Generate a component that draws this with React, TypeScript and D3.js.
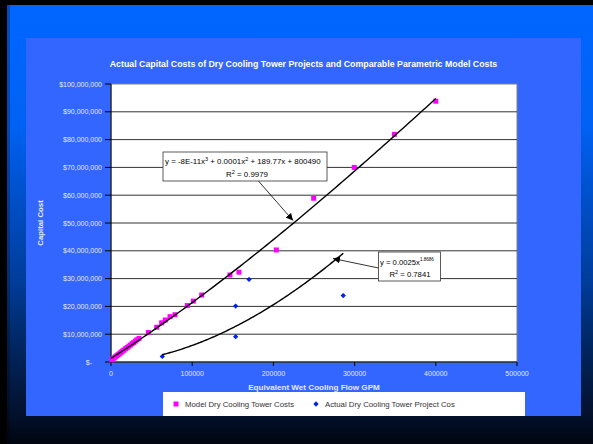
import React from "react";
import * as d3 from "d3";

// Model Dry Cooling Tower Costs (GPM, $)
const modelX = [1000, 2500, 4000, 5500, 7000, 8500, 10000, 11500, 13000, 14500, 16000, 18000, 20000, 22000, 24000, 26000, 28000, 30000, 32000, 34500, 46000, 56300, 62400, 66900, 72700, 78800, 94000, 101400, 111700, 146500, 157600, 203600, 249600, 299600, 349000, 400000];
const modelY = [0.8e6, 1.2e6, 1.5e6, 1.9e6, 2.2e6, 2.6e6, 2.9e6, 3.3e6, 3.6e6, 4.0e6, 4.3e6, 4.8e6, 5.2e6, 5.7e6, 6.1e6, 6.6e6, 7.0e6, 7.5e6, 8.0e6, 8.5e6, 10.6e6, 12.5e6, 14.1e6, 15.1e6, 16.3e6, 17.0e6, 20.3e6, 21.9e6, 24.1e6, 31.3e6, 32.3e6, 40.3e6, 58.9e6, 70.0e6, 81.9e6, 93.8e6];

// Actual Dry Cooling Tower Project Costs
const actualX = [63200, 153500, 153500, 170000, 286000];
const actualY = [2.0e6, 20.1e6, 9.1e6, 29.7e6, 23.9e6];

const yTicks = [0, 10e6, 20e6, 30e6, 40e6, 50e6, 60e6, 70e6, 80e6, 90e6, 100e6];
const xTicks = [0, 100000, 200000, 300000, 400000, 500000];

const titleText = "Actual Capital Costs of Dry Cooling Tower Projects and Comparable Parametric Model Costs";
const xTitle = "Equivalent Wet Cooling Flow GPM";
const yTitle = "Capital Cost";
const legendLabels = ["Model Dry Cooling Tower Costs", "Actual Dry Cooling Tower Project Cos"];
const polyLabel1 = "y = -8E-11x";
const polyLabel1b = " + 0.0001x";
const polyLabel1c = " + 189.77x + 800490";
const polyR2 = " = 0.9979";
const powLabel = "y = 0.0025x";
const powExp = "1.8686";
const powR2 = " = 0.7841";

// least-squares cubic fit (Excel polynomial trendline, order 3)
function cubicFit(xs: number[], ys: number[]) {
  const n = 4;
  const s = 1e5;
  const A = Array.from({ length: n }, () => new Array(n + 1).fill(0));
  xs.forEach((x, k) => {
    const u = x / s;
    for (let i = 0; i < n; i++) {
      for (let j = 0; j < n; j++) A[i][j] += Math.pow(u, i + j);
      A[i][n] += Math.pow(u, i) * ys[k];
    }
  });
  for (let c = 0; c < n; c++) {
    let p = c;
    for (let r = c + 1; r < n; r++) if (Math.abs(A[r][c]) > Math.abs(A[p][c])) p = r;
    [A[c], A[p]] = [A[p], A[c]];
    for (let r = 0; r < n; r++) {
      if (r === c) continue;
      const f = A[r][c] / A[c][c];
      for (let k = c; k <= n; k++) A[r][k] -= f * A[c][k];
    }
  }
  const coef = A.map((row, i) => row[n] / row[i]);
  return (x: number) => {
    const u = x / s;
    return coef[0] + coef[1] * u + coef[2] * u * u + coef[3] * u * u * u;
  };
}

// power fit via log-log regression (Excel power trendline)
function powerFit(xs: number[], ys: number[]) {
  const lx = xs.map(Math.log);
  const ly = ys.map(Math.log);
  const mx = d3.mean(lx)!;
  const my = d3.mean(ly)!;
  let sxy = 0, sxx = 0;
  lx.forEach((v, i) => { sxy += (v - mx) * (ly[i] - my); sxx += (v - mx) * (v - mx); });
  const b = sxy / sxx;
  const a = Math.exp(my - b * mx);
  return (x: number) => a * Math.pow(x, b);
}

export default function App() {
  const W = 593, H = 444;
  const x = d3.scaleLinear().domain([0, 500000]).range([111, 517]);
  const y = d3.scaleLinear().domain([0, 100e6]).range([362, 84]);

  const poly = cubicFit(modelX, modelY);
  const pow = powerFit(actualX, actualY);

  const line = d3.line<number>().x((v) => x(v)).y((v) => y(poly(v)));
  const polyXs = d3.range(0, 400001, 4000);
  const xmin = d3.min(actualX)!, xmax = d3.max(actualX)!;
  const powXs = d3.range(xmin, xmax, 2000).concat([xmax]);
  const powLine = d3.line<number>().x((v) => x(v)).y((v) => y(pow(v)));

  const font = "'Liberation Sans', Arial, sans-serif";
  const axisColor = "#E6E8FF";
  const sq = 5;
  const diamond = d3.symbol().type(d3.symbolSquare).size(14)();

  return (
    <svg width={W} height={H} style={{ position: "absolute", left: 0, top: 0 }} fontFamily={font}>
      <defs>
        <linearGradient id="bg" x1="0" y1="0" x2="0" y2="1">
          <stop offset="0" stopColor="#0066FF" />
          <stop offset="0.27" stopColor="#0062F4" />
          <stop offset="0.36" stopColor="#0058DD" />
          <stop offset="0.63" stopColor="#003C9A" />
          <stop offset="0.75" stopColor="#002A6A" />
          <stop offset="0.94" stopColor="#03102A" />
          <stop offset="1" stopColor="#000510" />
        </linearGradient>
        <marker id="arrow" viewBox="0 0 10 10" refX="10" refY="5" markerWidth="7" markerHeight="7" orient="auto" markerUnits="userSpaceOnUse">
          <path d="M0,0 L10,5 L0,10 z" fill="#000" />
        </marker>
      </defs>
      <rect x={0} y={0} width={W} height={H} fill="#000" />
      <rect x={7} y={5} width={W - 7} height={H - 5} fill="url(#bg)" />
      <rect x={7} y={5} width={3} height={H - 5} fill="#000" opacity={0.25} />
      {/* chart area */}
      <rect x={26} y={38} width={555} height={378} fill="#3366FF" />
      <text x={303.5} y={67} textAnchor="middle" fill="#FFFFFF" fontSize={8.8} fontWeight="bold">{titleText}</text>
      {/* plot area */}
      <rect x={111} y={84} width={406} height={278} fill="#FFFFFF" stroke="#808080" strokeWidth={1} />
      {yTicks.filter((t) => t > 0 && t < 100e6).map((t) => (
        <line key={"g" + t} x1={111} x2={517} y1={y(t)} y2={y(t)} stroke="#333" strokeWidth={1} />
      ))}
      {/* axes */}
      <line x1={111} x2={111} y1={84} y2={362} stroke="#000" />
      <line x1={111} x2={517} y1={362} y2={362} stroke="#000" />
      {yTicks.map((t) => (
        <g key={"yt" + t}>
          <line x1={105} x2={111} y1={y(t)} y2={y(t)} stroke="#000" />
          <text x={t === 0 ? 92 : 102} y={y(t) + 2.5} textAnchor="end" fill={axisColor} fontSize={7}>
            {t === 0 ? "$-" : "$" + d3.format(",")(t)}
          </text>
        </g>
      ))}
      {xTicks.map((t) => (
        <g key={"xt" + t}>
          <line x1={x(t)} x2={x(t)} y1={362} y2={366} stroke="#000" />
          <text x={x(t)} y={376} textAnchor="middle" fill={axisColor} fontSize={7}>{String(t)}</text>
        </g>
      ))}
      <text x={314} y={390} textAnchor="middle" fill={axisColor} fontSize={8.1} fontWeight="bold">{xTitle}</text>
      <text transform="translate(43,223) rotate(-90)" textAnchor="middle" fill={axisColor} fontSize={7.8} fontWeight="bold">{yTitle}</text>
      {/* data */}
      {modelX.map((v, i) => (
        <rect key={"m" + i} x={x(v) - sq / 2} y={y(modelY[i]) - sq / 2} width={sq} height={sq} fill="#FF00FF" />
      ))}
      {actualX.map((v, i) => (
        <path key={"a" + i} d={diamond!} transform={`translate(${x(v)},${y(actualY[i])}) rotate(45)`} fill="#0022EE" />
      ))}
      {/* trendlines */}
      <path d={line(polyXs)!} fill="none" stroke="#000" strokeWidth={1.4} />
      <path d={powLine(powXs)!} fill="none" stroke="#000" strokeWidth={1.4} />
      {/* poly label */}
      <line x1={258} y1={180.5} x2={293} y2={220.5} stroke="#000" strokeWidth={0.8} markerEnd="url(#arrow)" />
      <rect x={163} y={152} width={164} height={29} fill="#FFFFFF" stroke="#333" strokeWidth={0.8} />
      <text x={165} y={164} fontSize={7.9} fill="#000">
        {polyLabel1}<tspan dy={-3} fontSize={5.5}>3</tspan><tspan dy={3}>{polyLabel1b}</tspan><tspan dy={-3} fontSize={5.5}>2</tspan><tspan dy={3}>{polyLabel1c}</tspan>
      </text>
      <text x={247} y={176.5} textAnchor="middle" fontSize={7.9} fill="#000">
        R<tspan dy={-3} fontSize={5.5}>2</tspan><tspan dy={3}>{polyR2}</tspan>
      </text>
      {/* power label */}
      <line x1={378.5} y1={268} x2={333} y2={258.5} stroke="#000" strokeWidth={0.8} markerEnd="url(#arrow)" />
      <rect x={378.5} y={252} width={62} height={29} fill="#FFFFFF" stroke="#333" strokeWidth={0.8} />
      <text x={380} y={264.5} fontSize={7.7} fill="#000">
        {powLabel}<tspan dy={-4} fontSize={4.5}>{powExp}</tspan>
      </text>
      <text x={410} y={277} textAnchor="middle" fontSize={7.7} fill="#000">
        R<tspan dy={-3} fontSize={5.5}>2</tspan><tspan dy={3}>{powR2}</tspan>
      </text>
      {/* legend */}
      <rect x={163} y={392} width={362} height={24} fill="#FFFFFF" />
      <rect x={176 - 2.5} y={404 - 2.5} width={5} height={5} fill="#FF00FF" />
      <text x={185} y={406.5} fontSize={7.8} fill="#333">{legendLabels[0]}</text>
      <path d={diamond!} transform="translate(316,404) rotate(45)" fill="#0022EE" />
      <text x={325} y={406.5} fontSize={7.8} fill="#333">{legendLabels[1]}</text>
    </svg>
  );
}
